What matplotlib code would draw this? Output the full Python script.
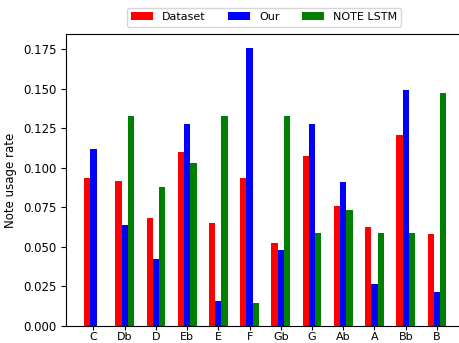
import numpy as np
import matplotlib
matplotlib.use("Agg")
from matplotlib import pyplot as plt

notes = ['C', 'Db', 'D', 'Eb', 'E', 'F', 'Gb', 'G', 'Ab', 'A', 'Bb', 'B']
dataset = [0.0936, 0.0915, 0.0682, 0.1098, 0.0653, 0.0936, 0.0527, 0.1077, 0.0758, 0.0628, 0.1209, 0.0579]
our = [0.1115, 0.0636, 0.0426, 0.1278, 0.0159, 0.1757, 0.0477, 0.1278, 0.0907, 0.0264, 0.1490, 0.0212]
note_lstm = [0.0, 0.1329, 0.0880, 0.1031, 0.1329, 0.0145, 0.1329, 0.0588, 0.0735, 0.0588, 0.0588, 0.1469]

plt.rcParams['font.size'] = 8.5

fig = plt.figure(figsize=(4.59, 3.43), dpi=100)
ax = fig.add_axes([0.1438, 0.0496, 0.868, 0.8514])

x = np.arange(len(notes))
w = 0.2
ax.bar(x - w, dataset, w, color='red', label='Dataset')
ax.bar(x, our, w, color='blue', label='Our')
ax.bar(x + w, note_lstm, w, color='green', label='NOTE LSTM')

ax.set_xticks(x)
ax.set_xticklabels(notes)
ax.tick_params(axis='x', length=3, pad=1.5, labelsize=8)
ax.set_ylabel('Note usage rate')
ax.legend(loc='lower center', bbox_to_anchor=(0.497, 1.025), ncol=3,
          borderaxespad=0, fontsize=8)

fig.savefig('out.png', dpi=100)
